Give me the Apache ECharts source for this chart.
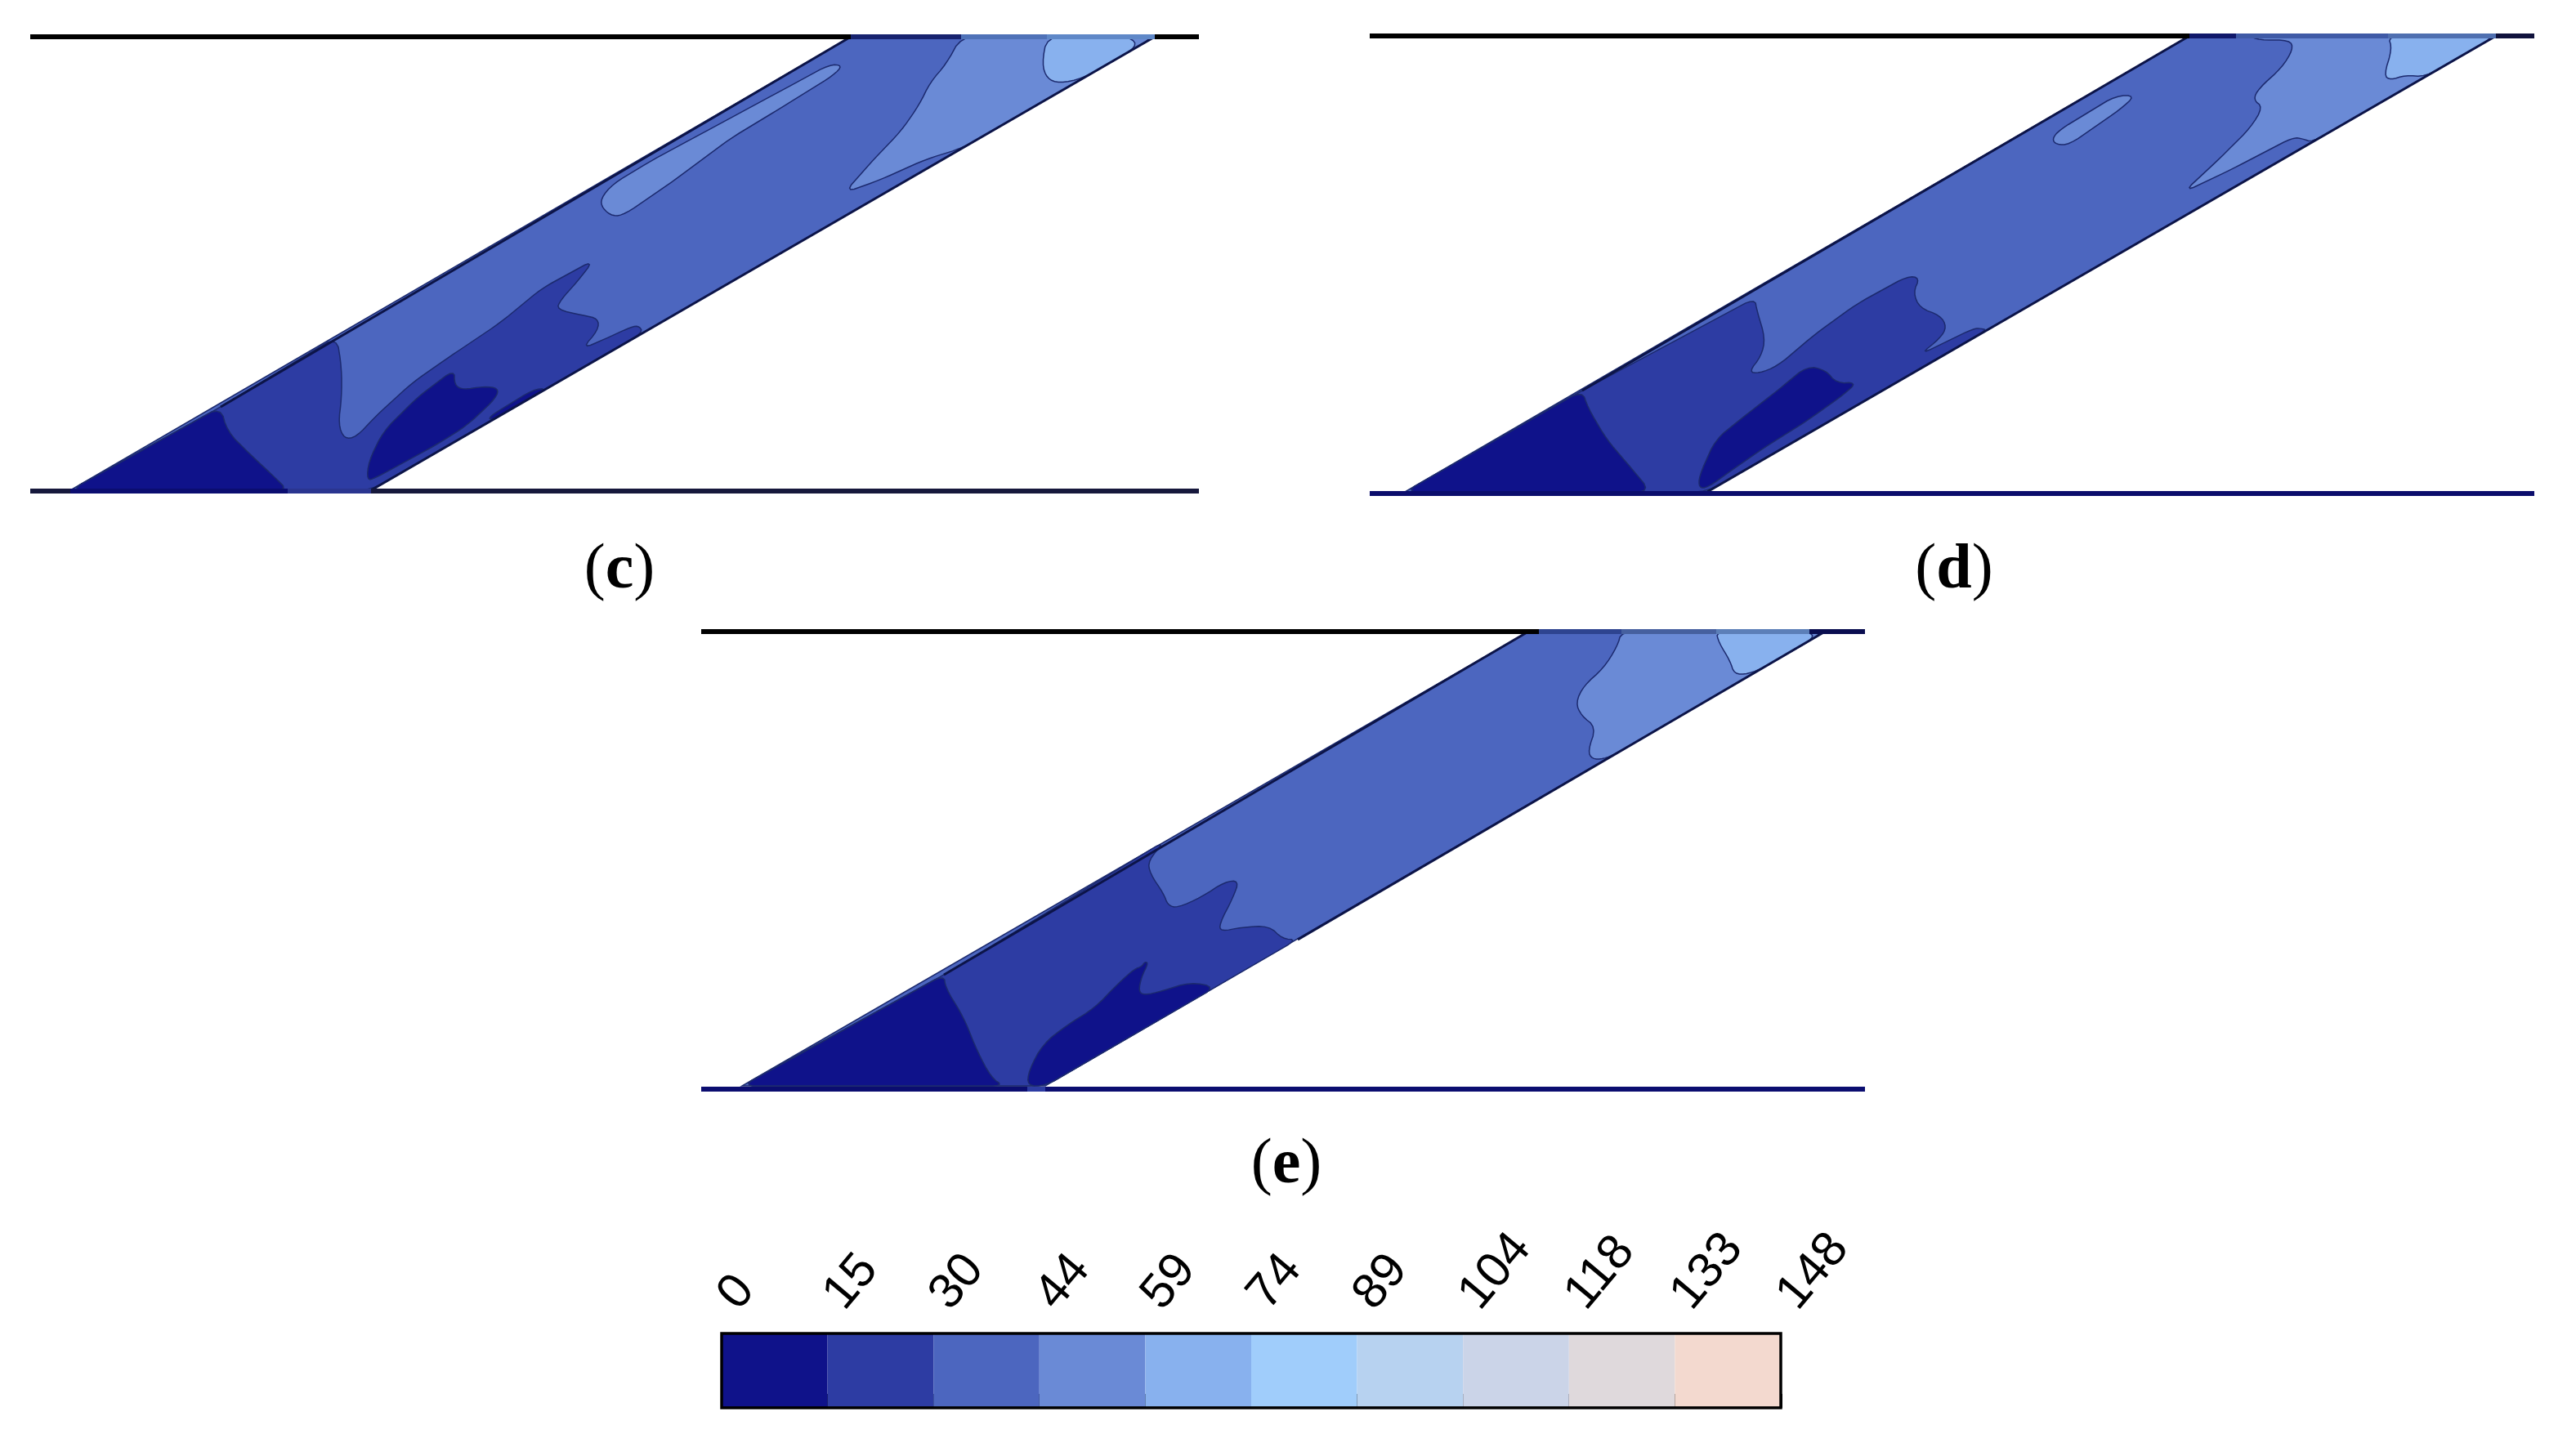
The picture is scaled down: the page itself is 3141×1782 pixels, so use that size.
<!DOCTYPE html>
<html>
<head>
<meta charset="utf-8">
<title>Contours</title>
<script src="https://cdn.jsdelivr.net/npm/echarts@6/dist/echarts.min.js"></script>
<style>
  html, body { margin: 0; padding: 0; background: #fff; }
  #main { width: 3141px; height: 1782px; }
</style>
</head>
<body>
<div id="main"></div>
<script>
// colour bar
const tickLabels = ['0', '15', '30', '44', '59', '74', '89', '104', '118', '133', '148'];
const levelColors = ['#0F128A', '#2D3CA3', '#4C66BF', '#6A8AD6', '#88B1EE', '#A0CDFB', '#B7D2F0', '#CBD4E8', '#DFD9DC', '#F3D9CF'];

// panel (c): contour outlines, x along wall, y down from top wall
const channelC = [[49, 555], [417, 555], [1376, 0], [1004, 0]];
const c15 = [[233, 453], [375, 367], [381, 405], [381, 442], [377, 474], [384, 492], [399, 490], [422, 465], [468, 423], [514, 391], [575, 350], [626, 308], [690, 273], [670, 299], [649, 322], [644, 334], [677, 341], [695, 345], [695, 359], [675, 382], [703, 370], [731, 357], [744, 353], [750, 362], [417, 555], [49, 555]];
const c0corner = [[49, 555], [233, 453], [241, 483], [269, 511], [300, 540], [315, 555]];
const c0inner = [[412, 543], [414, 520], [432, 483], [473, 442], [519, 407], [519, 426], [529, 432], [555, 428], [573, 430], [570, 442], [534, 476], [494, 501], [422, 540]];
const c0sliver = [[566, 469], [633, 430], [615, 432], [560, 466]];
const c44island = [[698, 198], [713, 180], [763, 150], [815, 122], [917, 67], [978, 34], [994, 35], [983, 47], [917, 88], [856, 125], [789, 175], [728, 217], [713, 220], [700, 210]];
const c44main = [[1139, 0], [1121, 33], [1101, 56], [1088, 83], [1065, 116], [1034, 148], [996, 191], [1040, 175], [1096, 150], [1141, 136], [1376, 0]];
const c59 = [[1244, 0], [1238, 33], [1244, 51], [1259, 57], [1288, 51], [1355, 12], [1346, 0]];

// panel (d)
const channelD = [[43, 558], [413, 558], [1378, 0], [1003, 0]];
const d15 = [[260, 434], [471, 321], [474, 337], [484, 370], [479, 392], [464, 411], [476, 413], [499, 404], [545, 365], [596, 328], [658, 294], [673, 296], [665, 314], [673, 333], [698, 342], [706, 356], [698, 370], [673, 390], [739, 358], [748, 358], [755, 360], [413, 558], [43, 558]];
const d0corner = [[43, 558], [260, 434], [267, 455], [290, 494], [321, 530], [344, 558]];
const d0inner = [[403, 553], [403, 539], [423, 494], [464, 461], [499, 434], [535, 404], [558, 409], [571, 425], [596, 424], [581, 438], [535, 471], [484, 503], [445, 530], [413, 553]];
const d44island = [[835, 126], [844, 115], [913, 73], [937, 73], [918, 90], [856, 133], [840, 133]];
const d44main = [[1076, 0], [1088, 5], [1126, 5], [1130, 16], [1116, 39], [1088, 64], [1081, 78], [1093, 87], [1078, 112], [1041, 149], [996, 191], [1055, 163], [1130, 124], [1142, 126], [1153, 130], [1378, 0]];
const d59 = [[1246, 0], [1251, 16], [1241, 48], [1249, 54], [1267, 48], [1292, 50], [1378, 0]];

// panel (e)
const channelE = [[50, 556], [421, 556], [1375, 0], [1012, 0]];
const e15 = [[297, 420], [568, 256], [547, 280], [549, 296], [566, 321], [571, 335], [583, 338], [612, 325], [641, 306], [658, 305], [651, 325], [634, 358], [636, 367], [661, 362], [695, 360], [711, 376], [729, 377], [421, 556], [50, 556]];
const e0corner = [[50, 556], [297, 420], [299, 436], [321, 472], [338, 514], [355, 546], [370, 556]];
const e0inner = [[399, 556], [401, 537], [418, 505], [447, 482], [481, 461], [510, 431], [530, 413], [539, 410], [543, 404], [547, 406], [539, 422], [535, 440], [542, 445], [564, 440], [598, 429], [630, 435], [421, 556]];
const e44main = [[1126, 0], [1121, 18], [1104, 45], [1080, 66], [1070, 87], [1077, 103], [1095, 117], [1085, 146], [1090, 156], [1104, 156], [1120, 149], [1375, 0]];
const e59 = [[1242, 0], [1245, 13], [1259, 36], [1264, 52], [1281, 52], [1302, 43], [1362, 8], [1356, 0]];

const panels = [
  {
    label: 'c', left: 37, top: 45, width: 1430, height: 556, captionX: 753, captionY: 655,
    regions: [[2, channelC], [1, c15], [0, c0corner], [0, c0inner], [0, c0sliver], [3, c44island], [3, c44main], [4, c59]],
    edges: [[[233, 453], [1004, 0]], [[417, 555], [1376, 0]]],
    topWall: [[0, 1004, '#000000'], [1004, 1139, '#17236f'], [1139, 1244, '#4f72b8'], [1244, 1376, '#5f88c8'], [1376, 1430, '#000000']],
    bottomWall: [[0, 49, '#16183c'], [49, 315, '#0b0d70'], [315, 417, '#2a3590'], [417, 1430, '#16183c']]
  },
  {
    label: 'd', left: 1676, top: 44, width: 1425, height: 560, captionX: 2386, captionY: 655,
    regions: [[2, channelD], [1, d15], [0, d0corner], [0, d0inner], [3, d44island], [3, d44main], [4, d59]],
    edges: [[[260, 434], [1003, 0]], [[413, 558], [1378, 0]]],
    topWall: [[0, 1003, '#000000'], [1003, 1060, '#10186a'], [1060, 1246, '#3f5aa6'], [1246, 1378, '#4f6fb0'], [1378, 1425, '#10123c']],
    bottomWall: [[0, 1425, '#0b0d6c']]
  },
  {
    label: 'e', left: 858, top: 773, width: 1424, height: 560, captionX: 1569, captionY: 1383,
    regions: [[2, channelE], [1, e15], [0, e0corner], [0, e0inner], [3, e44main], [4, e59]],
    edges: [[[297, 420], [1012, 0]], [[730, 377], [1375, 0]]],
    topWall: [[0, 1025, '#000000'], [1025, 1126, '#2e4490'], [1126, 1242, '#46609f'], [1242, 1356, '#5c7fb8'], [1356, 1424, '#0a0e50']],
    bottomWall: [[0, 399, '#0b0d70'], [399, 421, '#2d3ca3'], [421, 1424, '#0b0d70']]
  }
];

const grids = [];
const xAxes = [];
const yAxes = [];
const series = [];
const titles = [];

function flatLine(name, idx, pts, color, width) {
  return {
    name: name, type: 'line', xAxisIndex: idx, yAxisIndex: idx, data: pts,
    showSymbol: false, clip: false, silent: true, animation: false, z: 5,
    lineStyle: { color: color, width: width, cap: 'butt' }
  };
}

// round off the contour corners a little, cut is capped so long runs stay straight
function roundCorners(pts, cut) {
  const out = [];
  pts.forEach(function (p, i) {
    const q = pts[(i + 1) % pts.length];
    const len = Math.hypot(q[0] - p[0], q[1] - p[1]) || 1;
    const t = Math.min(0.25, cut / len);
    out.push([p[0] + (q[0] - p[0]) * t, p[1] + (q[1] - p[1]) * t]);
    out.push([q[0] - (q[0] - p[0]) * t, q[1] - (q[1] - p[1]) * t]);
  });
  return out;
}

panels.forEach(function (p, idx) {
  grids.push({ left: p.left, top: p.top, width: p.width, height: p.height, containLabel: false });
  xAxes.push({ type: 'value', gridIndex: idx, min: 0, max: p.width, show: false });
  yAxes.push({ type: 'value', gridIndex: idx, min: 0, max: p.height, inverse: true, show: false });

  series.push({
    type: 'custom', xAxisIndex: idx, yAxisIndex: idx, clip: false, silent: true, animation: false, z: 3,
    data: p.regions.map(function (r, i) { return [i]; }),
    renderItem: function (params, api) {
      const r = p.regions[params.dataIndex];
      let pts = r[1].map(function (pt) { return api.coord(pt); });
      if (params.dataIndex > 0) {
        pts = roundCorners(roundCorners(pts, 9), 4);
      }
      return {
        type: 'polygon',
        shape: { points: pts },
        style: { fill: levelColors[r[0]], stroke: '#1c2a6e', lineWidth: 1.5 }
      };
    }
  });

  p.edges.forEach(function (e, i) {
    series.push(flatLine('edge' + i, idx, e, '#0c1448', 3));
  });
  p.topWall.forEach(function (w, i) {
    series.push(flatLine('top' + i, idx, [[w[0], 0], [w[1], 0]], w[2], 6));
  });
  p.bottomWall.forEach(function (w, i) {
    series.push(flatLine('bottom' + i, idx, [[w[0], p.height], [w[1], p.height]], w[2], 6));
  });

  titles.push({
    text: '({b|' + p.label + '})',
    left: p.captionX, top: p.captionY, textAlign: 'center',
    textStyle: {
      fontFamily: 'Liberation Serif', fontSize: 78, fontWeight: 'normal', color: '#000',
      rich: { b: { fontFamily: 'Liberation Serif', fontSize: 78, fontWeight: 'bold', color: '#000' } }
    }
  });
});

// colour bar grid
const barIdx = panels.length;
grids.push({ left: 883, top: 1632, width: 1296, height: 91, containLabel: false });
xAxes.push({
  type: 'category', gridIndex: barIdx, position: 'top', boundaryGap: false, data: tickLabels,
  axisLine: { show: false },
  axisTick: { show: true, alignWithLabel: true, interval: 0, length: 17, lineStyle: { color: '#000', width: 3 } },
  axisLabel: {
    show: true, interval: 0, rotate: 50, margin: 28, padding: [0, 0, 0, 12], showMinLabel: true, showMaxLabel: true,
    fontFamily: 'Liberation Sans', fontSize: 60, color: '#000'
  },
  splitLine: { show: false }
});
yAxes.push({ type: 'value', gridIndex: barIdx, min: 0, max: 1, show: false });

series.push({
  type: 'custom', xAxisIndex: barIdx, yAxisIndex: barIdx, clip: false, silent: true, animation: false, z: 3,
  data: levelColors.map(function (c, i) { return [i, i + 1]; }),
  renderItem: function (params, api) {
    const a = api.coord([api.value(0), 0]);
    const b = api.coord([api.value(1), 1]);
    return {
      type: 'rect',
      shape: { x: a[0], y: b[1], width: b[0] - a[0], height: a[1] - b[1] },
      style: { fill: levelColors[params.dataIndex] }
    };
  }
});
series.push({
  type: 'custom', xAxisIndex: barIdx, yAxisIndex: barIdx, clip: false, silent: true, animation: false, z: 4,
  data: [[0, tickLabels.length - 1]],
  renderItem: function (params, api) {
    const a = api.coord([api.value(0), 0]);
    const b = api.coord([api.value(1), 1]);
    return {
      type: 'rect',
      shape: { x: a[0], y: b[1], width: b[0] - a[0], height: a[1] - b[1] },
      style: { fill: 'none', stroke: '#000', lineWidth: 3.5 }
    };
  }
});

const myChart = echarts.init(document.getElementById('main'));
myChart.setOption({
  animation: false,
  backgroundColor: '#fff',
  title: titles,
  grid: grids,
  xAxis: xAxes,
  yAxis: yAxes,
  series: series
});
</script>
</body>
</html>
